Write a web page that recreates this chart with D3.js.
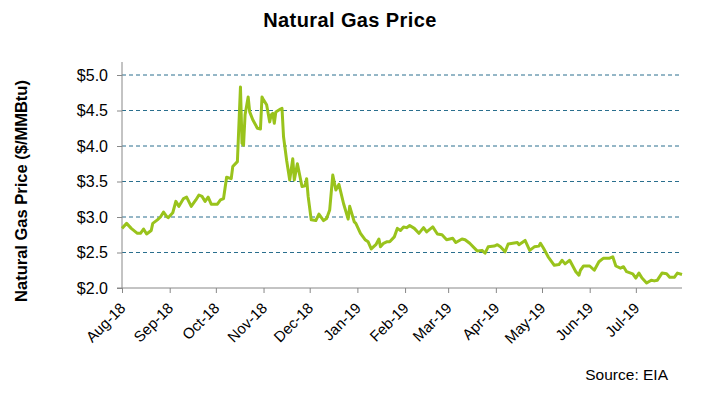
<!DOCTYPE html>
<html><head><meta charset="utf-8">
<script src="https://cdn.jsdelivr.net/npm/d3@7/dist/d3.min.js"></script>
<style>body{margin:0;background:#fff}svg{display:block}</style>
</head><body><svg id="c" width="708" height="400"></svg>
<script>
const dates = ["2018-08-01","2018-08-04","2018-08-07","2018-08-11","2018-08-13","2018-08-15","2018-08-17","2018-08-20","2018-08-21","2018-08-24","2018-08-26","2018-08-28","2018-08-30","2018-08-31",
"2018-09-03","2018-09-05","2018-09-07","2018-09-10","2018-09-12","2018-09-15","2018-09-18","2018-09-20","2018-09-22","2018-09-24","2018-09-26","2018-09-28",
"2018-10-02","2018-10-04","2018-10-06","2018-10-08","2018-10-11","2018-10-12","2018-10-15","2018-10-17","2018-10-18","2018-10-19","2018-10-20","2018-10-22","2018-10-23","2018-10-25","2018-10-28","2018-10-30","2018-10-31",
"2018-11-01","2018-11-03","2018-11-05","2018-11-06","2018-11-07","2018-11-08","2018-11-09","2018-11-12","2018-11-13","2018-11-14","2018-11-16","2018-11-18","2018-11-20","2018-11-21","2018-11-23","2018-11-26","2018-11-28","2018-11-29","2018-11-30",
"2018-12-02","2018-12-05","2018-12-07","2018-12-10","2018-12-12","2018-12-14","2018-12-16","2018-12-18","2018-12-20","2018-12-23","2018-12-26","2018-12-27","2018-12-30","2018-12-31",
"2019-01-03","2019-01-06","2019-01-08","2019-01-10","2019-01-13","2019-01-15","2019-01-16","2019-01-18","2019-01-20","2019-01-22","2019-01-25","2019-01-27","2019-01-29","2019-01-31",
"2019-02-02","2019-02-04","2019-02-07","2019-02-10","2019-02-13","2019-02-15","2019-02-19","2019-02-22","2019-02-25","2019-02-28",
"2019-03-04","2019-03-06","2019-03-10","2019-03-12","2019-03-15","2019-03-20","2019-03-23","2019-03-25","2019-03-27","2019-03-31",
"2019-04-02","2019-04-04","2019-04-07","2019-04-09","2019-04-12","2019-04-15","2019-04-16","2019-04-20","2019-04-23","2019-04-26","2019-04-29","2019-04-30",
"2019-05-02","2019-05-05","2019-05-09","2019-05-12","2019-05-14","2019-05-16","2019-05-19","2019-05-23","2019-05-25","2019-05-26","2019-05-28",
"2019-06-01","2019-06-04","2019-06-07","2019-06-10","2019-06-14","2019-06-16","2019-06-18","2019-06-21","2019-06-23","2019-06-25","2019-06-29",
"2019-07-01","2019-07-03","2019-07-05","2019-07-08","2019-07-11","2019-07-13","2019-07-15","2019-07-18","2019-07-21","2019-07-23","2019-07-26","2019-07-28","2019-07-31"];
const prices = [2.84,2.91,2.84,2.77,2.77,2.83,2.76,2.81,2.91,2.96,3.00,3.07,3.01,2.99,
3.06,3.22,3.15,3.26,3.28,3.15,3.24,3.31,3.29,3.22,3.28,3.18,
3.18,3.24,3.26,3.56,3.54,3.71,3.78,4.83,4.04,4.01,4.44,4.69,4.48,4.37,4.25,4.24,4.69,
4.65,4.58,4.34,4.44,4.46,4.32,4.48,4.52,4.53,4.13,3.80,3.52,3.82,3.52,3.75,3.43,3.44,3.54,3.29,
2.96,2.95,3.04,2.95,2.98,3.10,3.59,3.38,3.46,3.19,2.97,3.15,2.93,2.91,
2.77,2.68,2.65,2.55,2.61,2.69,2.58,2.63,2.65,2.65,2.72,2.84,2.81,2.86,
2.85,2.88,2.84,2.77,2.85,2.79,2.86,2.76,2.75,2.68,
2.70,2.64,2.69,2.68,2.63,2.52,2.53,2.49,2.58,2.59,
2.61,2.58,2.51,2.62,2.63,2.64,2.61,2.67,2.53,2.58,2.59,2.63,
2.56,2.44,2.32,2.33,2.39,2.34,2.39,2.23,2.18,2.25,2.31,
2.31,2.25,2.37,2.42,2.42,2.44,2.31,2.28,2.30,2.23,2.20,
2.14,2.21,2.14,2.07,2.11,2.10,2.11,2.21,2.20,2.15,2.15,2.21,2.19];
const yTicks = [2.0,2.5,3.0,3.5,4.0,4.5,5.0];
const xTickDates = ["2018-08-01","2018-09-01","2018-10-01","2018-11-01","2018-12-01","2019-01-01","2019-02-01","2019-03-01","2019-04-01","2019-05-01","2019-06-01","2019-07-01"];
const domainDates = ["2018-08-01","2019-07-31"];

const parse = d3.timeParse("%Y-%m-%d");
const data = dates.map((d,i)=>({date:parse(d), v:prices[i]}));
const svg = d3.select("#c");
const font = "'Liberation Sans', Arial, sans-serif";
const m = {l:122, r:682, t:75, b:288};

const x = d3.scaleTime().domain(domainDates.map(parse)).range([m.l, m.r]);
const y = d3.scaleLinear().domain([2.0,5.0]).range([m.b, m.t]);

// gridlines
svg.append("g").selectAll("line").data(yTicks.filter(t=>t>2)).join("line")
  .attr("x1", m.l).attr("x2", m.r).attr("y1", d=>y(d)).attr("y2", d=>y(d))
  .attr("stroke", "#2a6f8e").attr("stroke-width", 1).attr("stroke-dasharray", "4,3");

// y axis
const yAxis = d3.axisLeft(y).tickValues(yTicks).tickSize(5).tickPadding(9)
  .tickFormat(d=>"$"+d3.format(".1f")(d));
const ya = svg.append("g").attr("transform", `translate(${m.l},0)`).call(yAxis);
ya.select(".domain").attr("stroke", "#888").attr("d", `M-5,${m.b}H0V${m.t-13}`);
ya.selectAll(".tick line").attr("stroke", "#888");
ya.selectAll(".tick text").attr("font-family", font).attr("font-size", 16).attr("fill", "#000");

// x axis
const xAxis = d3.axisBottom(x).tickValues(xTickDates.map(parse)).tickSize(5).tickFormat(d3.timeFormat("%b-%y"));
const xa = svg.append("g").attr("transform", `translate(0,${m.b})`).call(xAxis);
xa.select(".domain").attr("stroke", "#888").attr("d", `M${m.l},0H${m.r}`);
xa.selectAll(".tick line").attr("stroke", "#888");
xa.selectAll(".tick text").attr("font-family", font).attr("font-size", 15).attr("fill", "#000")
  .attr("text-anchor", "end").attr("dy", null).attr("y", 0)
  .attr("transform", "translate(4,21) rotate(-45)");

// line
svg.append("path").datum(data)
  .attr("fill", "none").attr("stroke", "#99c31c").attr("stroke-width", 3)
  .attr("stroke-linejoin", "round")
  .attr("d", d3.line().x(d=>x(d.date)).y(d=>y(d.v)));

// title
svg.append("text").attr("x", 350).attr("y", 27).attr("text-anchor", "middle")
  .attr("font-family", font).attr("font-weight", "bold").attr("font-size", 20)
  .attr("letter-spacing", 0.4).text("Natural Gas Price");
// y label
svg.append("text").attr("transform", "translate(27,191) rotate(-90)").attr("text-anchor", "middle")
  .attr("font-family", font).attr("font-weight", "bold").attr("font-size", 16.5).text("Natural Gas Price ($/MMBtu)");
// source
svg.append("text").attr("x", 668).attr("y", 380).attr("text-anchor", "end")
  .attr("font-family", font).attr("font-size", 15.5).text("Source: EIA");
</script></body></html>
